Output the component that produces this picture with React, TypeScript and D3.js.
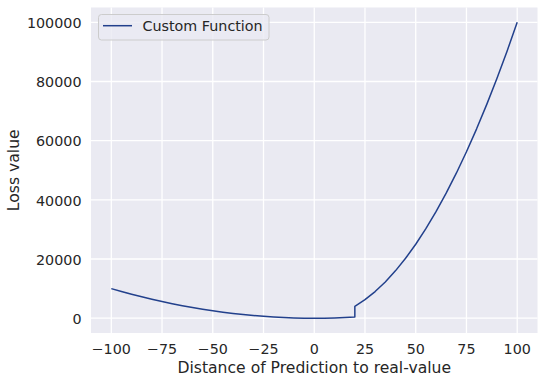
import React from "react";
import * as d3 from "d3";

const xValues = [-100, -95, -90, -85, -80, -75, -70, -65, -60, -55, -50, -45, -40, -35, -30, -25, -20, -15, -10, -5, 0, 5, 10, 15, 20, 20, 25, 30, 35, 40, 45, 50, 55, 60, 65, 70, 75, 80, 85, 90, 95, 100];
const lossValues = [10000, 9025, 8100, 7225, 6400, 5625, 4900, 4225, 3600, 3025, 2500, 2025, 1600, 1225, 900, 625, 400, 225, 100, 25, 0, 25, 100, 225, 400, 4000, 6250, 9000, 12250, 16000, 20250, 25000, 30250, 36000, 42250, 49000, 56250, 64000, 72250, 81000, 90250, 100000];
const xTicks = [-100, -75, -50, -25, 0, 25, 50, 75, 100];
const yTicks = [0, 20000, 40000, 60000, 80000, 100000];
const seriesName = "Custom Function";
const xLabel = "Distance of Prediction to real-value";
const yLabel = "Loss value";

const W = 544, H = 383;
const L = 91, R = 537.5, T = 7.5, B = 333;
const FONT = "DejaVu Sans, sans-serif";
const TXT = "#262626";
const LINE = "#22408c";
const TICK_FS = 14.3;
const LABEL_FS = 15.6;

export default function App() {
  const x = d3.scaleLinear().domain([-110, 110]).range([L, R]);
  const y = d3.scaleLinear().domain([-5000, 105000]).range([B, T]);
  const pts = xValues.map((v, i) => [v, lossValues[i]] as [number, number]);
  const path = d3.line<[number, number]>().x(d => x(d[0])).y(d => y(d[1]))(pts) || "";
  return (
    <svg width={W} height={H} style={{ position: "absolute", left: 0, top: 0 }} fontFamily={FONT}>
      <rect x={0} y={0} width={W} height={H} fill="#fff" />
      <rect x={L} y={T} width={R - L} height={B - T} fill="#EAEAF2" />
      {xTicks.map(t => (
        <line key={"gx" + t} x1={x(t)} x2={x(t)} y1={T} y2={B} stroke="#fff" strokeWidth={1.3} />
      ))}
      {yTicks.map(t => (
        <line key={"gy" + t} x1={L} x2={R} y1={y(t)} y2={y(t)} stroke="#fff" strokeWidth={1.3} />
      ))}
      <path d={path} fill="none" stroke={LINE} strokeWidth={1.5} strokeLinejoin="round" />
      {xTicks.map(t => (
        <text key={"tx" + t} x={x(t)} y={354} textAnchor="middle" fontSize={TICK_FS} fill={TXT}>
          {t < 0 ? "\u2212" + Math.abs(t) : String(t)}
        </text>
      ))}
      {yTicks.map(t => (
        <text key={"ty" + t} x={81.5} y={y(t) + 5.8} textAnchor="end" fontSize={TICK_FS} fill={TXT}>
          {String(t)}
        </text>
      ))}
      <text x={(L + R) / 2} y={373.3} textAnchor="middle" fontSize={LABEL_FS} fill={TXT}>{xLabel}</text>
      <text transform={`translate(19,${(T + B) / 2}) rotate(-90)`} textAnchor="middle" fontSize={LABEL_FS} fill={TXT}>{yLabel}</text>
      <g>
        <rect x={98.5} y={14.5} width={170.5} height={25.5} rx={3} fill="#EAEAF2" fillOpacity={0.8} stroke="#cccccc" strokeWidth={1} />
        <line x1={103} x2={132} y1={25.7} y2={25.7} stroke={LINE} strokeWidth={1.5} />
        <text x={142.5} y={31.3} fontSize={TICK_FS} fill={TXT}>{seriesName}</text>
      </g>
    </svg>
  );
}
